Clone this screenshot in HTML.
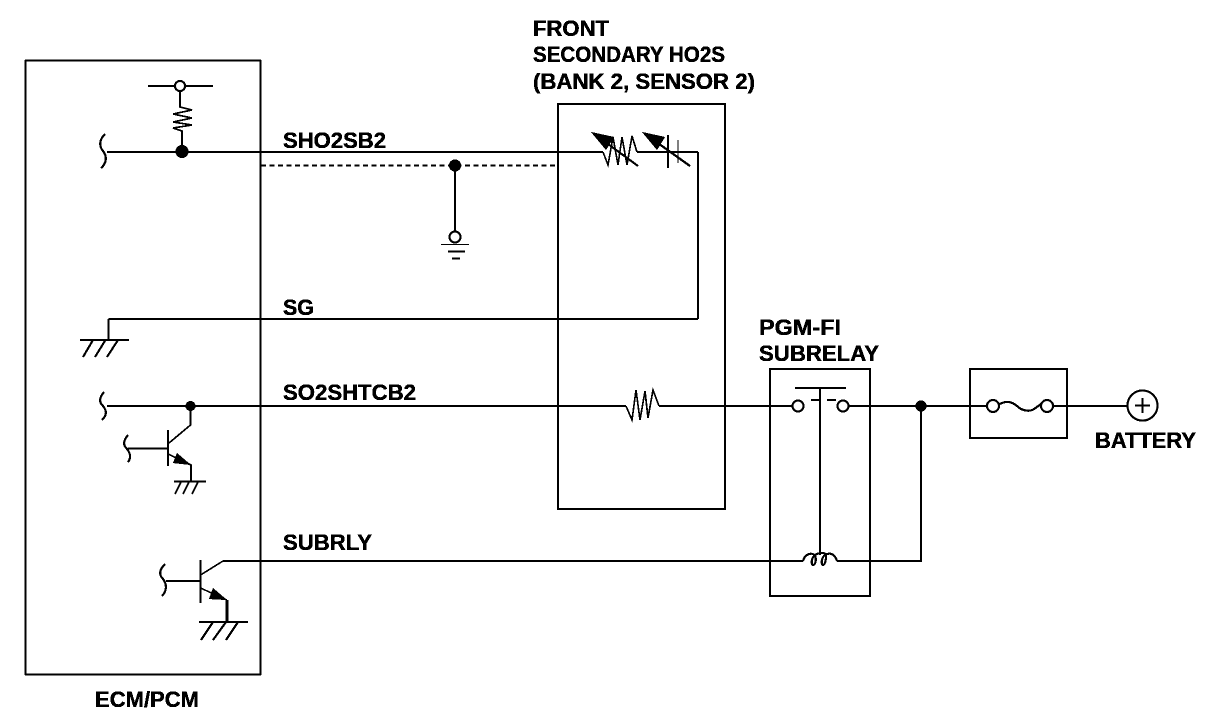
<!DOCTYPE html>
<html>
<head>
<meta charset="utf-8">
<style>
html,body{margin:0;padding:0;background:#fff;width:1216px;height:724px;overflow:hidden}
svg{display:block}
text{font-family:"Liberation Sans",sans-serif;font-weight:bold;font-size:22px;fill:#000;stroke:#000;stroke-width:.3px}
</style>
</head>
<body>
<svg width="1216" height="724" viewBox="0 0 1216 724" xmlns="http://www.w3.org/2000/svg">
<defs>
<filter id="bw" x="0" y="0" width="1216" height="724" filterUnits="userSpaceOnUse" color-interpolation-filters="sRGB">
<feComponentTransfer>
<feFuncA type="discrete" tableValues="0 1 1"/>
</feComponentTransfer>
</filter>
</defs>
<g filter="url(#bw)">
<g fill="none" stroke="#000" stroke-width="1.5">
<!-- boxes -->
<rect x="25.5" y="60.5" width="235" height="614"/>
<rect x="558" y="104" width="167" height="405" stroke-width="2"/>
<rect x="770" y="369" width="100" height="227" stroke-width="2"/>
<rect x="970" y="369" width="97" height="69" stroke-width="2"/>

<!-- SHO2SB2 -->
<path d="M107 152H603M637 152H698" stroke-width="2"/>
<path d="M698 152V319" stroke-width="1.5"/>
<path d="M698 319H108.500" stroke-width="2"/>
<path d="M108.500 319V340" stroke-width="1.500"/>
<path d="M105 134C99 140 99 146 103 151C107 156 107 163 101 168" stroke-width="2"/>
<path d="M148 86H213" stroke-width="2"/>
<path d="M180 91V107L192 110L173 114L192 118L173 122L192 125L173 128L182 131V152" stroke-width="1.500"/>
<circle cx="180" cy="86" r="5" fill="#fff" stroke-width="2"/>
<circle cx="182" cy="151.500" r="6.500" fill="#000" stroke="none"/>

<!-- dotted shield -->
<path d="M261 165.500H555" stroke-width="1.800" stroke-dasharray="5 3.500"/>
<path d="M455 166V232" stroke-width="2"/>
<circle cx="455" cy="165.500" r="6" fill="#000" stroke="none"/>
<circle cx="455" cy="237" r="5.500" fill="#fff" stroke-width="2"/>
<path d="M441 244.500H469" stroke-width="1"/>
<path d="M448 251.500H465M452 258.500H460" stroke-width="2"/>

<!-- variable resistor -->
<path d="M603 152L608 165L613 137L618 165L622 137L627 165L632 136L637 152" stroke-width="1.500"/>
<path d="M597 136L638 166" stroke-width="2"/>
<path d="M591 132L614 137L606 150Z" fill="#000" stroke="none"/>
<!-- cell -->
<path d="M668 135V168" stroke-width="2"/>
<path d="M678 140V163" stroke-width="1"/>
<path d="M648 136L690 166" stroke-width="2"/>
<path d="M642 132L665 137L657 150Z" fill="#000" stroke="none"/>

<!-- SG ground -->
<path d="M80 340H129" stroke-width="2"/>
<path d="M93 340L83 357M105.500 340L95 357M118 340L107 357" stroke-width="2"/>

<!-- SO2SHTCB2 -->
<path d="M107 406H626M659 406H792M849 406H987" stroke-width="1.500"/>
<path d="M104 392C99 398 99 402 103 406C107 411 107 415 102 420" stroke-width="2"/>
<path d="M626 406L632 420L636 390L640 420L645 391L648 418L653 390L659 406" stroke-width="1.500"/>
<circle cx="190.500" cy="406" r="5" fill="#000" stroke="none"/>
<!-- transistor 1 -->
<path d="M190.500 406V425L169 443M168 430V466M128 448.500H168M168 454L191 465V481" stroke-width="1.500"/>
<path d="M128 435C123 441 123 445 127 449C131 454 131 458 128 462" stroke-width="2"/>
<path d="M177 453L191 465L173 463Z" fill="#000" stroke="none"/>
<path d="M174 481.500H206" stroke-width="2"/>
<path d="M181 482L175 494M189 482L183 494M198 482L192 494" stroke-width="1.500"/>

<!-- SUBRLY -->
<path d="M803 561H223" stroke-width="2"/>
<path d="M223 561L200.500 575" stroke-width="1.500"/>
<path d="M200.500 560V603" stroke-width="1.500"/>
<path d="M166 581H200.500" stroke-width="2"/>
<path d="M165 564C159 570 159 575 163 579C167 584 167 591 162 596" stroke-width="2"/>
<path d="M200.500 588L227 600" stroke-width="1.500"/>
<path d="M227 600V622" stroke-width="2.500"/>
<path d="M213 588L227 600L209 599Z" fill="#000" stroke="none"/>
<path d="M199 622H248" stroke-width="1.500"/>
<path d="M213 622L201 640M226 622L213 640M238 622L226 640" stroke-width="2"/>

<!-- relay -->
<path d="M795 388H846" stroke-width="1.500"/>
<path d="M820 388V555" stroke-width="2"/>
<path d="M811 400H819M827 400H836" stroke-width="2"/>
<circle cx="798" cy="406" r="5.500" fill="#fff" stroke-width="2"/>
<circle cx="843" cy="406" r="5.500" fill="#fff" stroke-width="2"/>
<path d="M921 406V561H837" stroke-width="2"/>
<path d="M803 561C805 553 813 552 815 556C817 560 815 565 813 565C811 565 811 558 815 555C820 552 826 552 826 556C826 560 825 565 823 565C821 565 821 558 825 555C830 552 835 554 837 561" stroke-width="2"/>
<circle cx="921" cy="406" r="5.500" fill="#000" stroke="none"/>

<!-- fuse -->
<path d="M1052 406H1127" stroke-width="2"/>
<path d="M1000 404C1007 400 1012 402 1017 406C1022 411 1030 412 1034 409L1041 404" stroke-width="2"/>
<circle cx="993" cy="406" r="6" fill="#fff" stroke-width="2"/>
<circle cx="1047" cy="406" r="6" fill="#fff" stroke-width="2"/>
<circle cx="1142.500" cy="405.500" r="15" fill="#fff" stroke-width="2"/>
<path d="M1135 405.500H1150M1142.500 398V413" stroke-width="2"/>
</g>

<text x="533" y="36" textLength="76" lengthAdjust="spacingAndGlyphs">FRONT</text>
<text x="533" y="62" textLength="192" lengthAdjust="spacingAndGlyphs">SECONDARY HO2S</text>
<text x="533" y="89" textLength="222" lengthAdjust="spacingAndGlyphs">(BANK 2, SENSOR 2)</text>
<text x="283" y="148" textLength="103" lengthAdjust="spacingAndGlyphs">SHO2SB2</text>
<text x="283" y="315" textLength="31" lengthAdjust="spacingAndGlyphs">SG</text>
<text x="283" y="400" textLength="133" lengthAdjust="spacingAndGlyphs">SO2SHTCB2</text>
<text x="283" y="550" textLength="89" lengthAdjust="spacingAndGlyphs">SUBRLY</text>
<text x="759" y="335" textLength="82" lengthAdjust="spacingAndGlyphs">PGM-FI</text>
<text x="759" y="361" textLength="120" lengthAdjust="spacingAndGlyphs">SUBRELAY</text>
<text x="1095" y="448" textLength="101" lengthAdjust="spacingAndGlyphs">BATTERY</text>
<text x="95" y="707" textLength="104" lengthAdjust="spacingAndGlyphs">ECM/PCM</text>
</g>
</svg>
</body>
</html>
